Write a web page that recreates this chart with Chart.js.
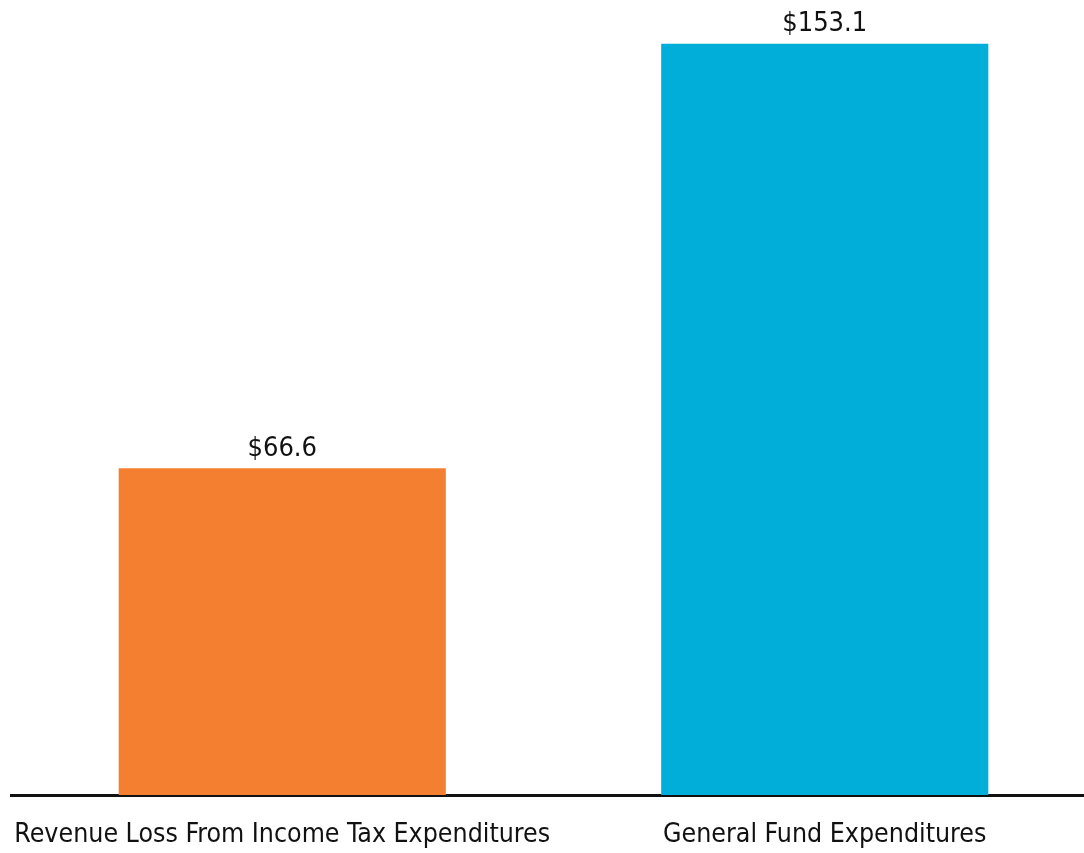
<!DOCTYPE html>
<html>
<head>
<meta charset="utf-8">
<script src="https://cdn.jsdelivr.net/npm/chart.js@4"></script>
<style>
  html, body { margin: 0; padding: 0; background: #fff; overflow: hidden; }
  #wrap { width: 1096px; height: 853px; }
</style>
</head>
<body>
<div id="wrap"><canvas id="chart" width="1096" height="853"></canvas></div>
<script>
var categories = ["Revenue Loss From Income Tax Expenditures", "General Fund Expenditures"];
var values = [66.6, 153.1];
var barColors = ["#F47F31", "#00AEDA"];

var fontFamily = "'Liberation Sans Narrow', 'DejaVu Sans Condensed', 'Roboto Condensed', 'Noto Sans', sans-serif";

// draw "$xx.x" above each bar
var valueLabels = {
  id: "valueLabels",
  afterDatasetsDraw: function(chart) {
    var ctx = chart.ctx;
    var meta = chart.getDatasetMeta(0);
    ctx.save();
    ctx.font = "27px " + fontFamily;
    ctx.fillStyle = "#111";
    ctx.textAlign = "center";
    ctx.textBaseline = "bottom";
    meta.data.forEach(function(bar, i) {
      ctx.fillText("$" + values[i].toFixed(1), bar.x, bar.y - 6);
    });
    ctx.restore();
  }
};

new Chart(document.getElementById("chart"), {
  type: "bar",
  data: {
    labels: categories,
    datasets: [{
      data: values,
      backgroundColor: barColors,
      borderWidth: 0,
      categoryPercentage: 1,
      barPercentage: 0.603
    }]
  },
  options: {
    responsive: false,
    animation: false,
    layout: { padding: { left: 11, right: 0, top: 10, bottom: 0 } },
    plugins: {
      legend: { display: false },
      tooltip: { enabled: false }
    },
    scales: {
      x: {
        grid: { display: false, drawTicks: false },
        border: { display: true, color: "#111", width: 3 },
        ticks: {
          color: "#111",
          padding: 24,
          maxRotation: 0,
          minRotation: 0,
          autoSkip: false,
          font: { family: fontFamily, size: 26.5 }
        },
        afterFit: function(scale) {
          scale.height = 58;
          scale.paddingLeft = 0;
          scale.paddingRight = 0;
        }
      },
      y: {
        display: false,
        min: 0,
        max: 160
      }
    }
  },
  plugins: [valueLabels]
});
</script>
</body>
</html>
